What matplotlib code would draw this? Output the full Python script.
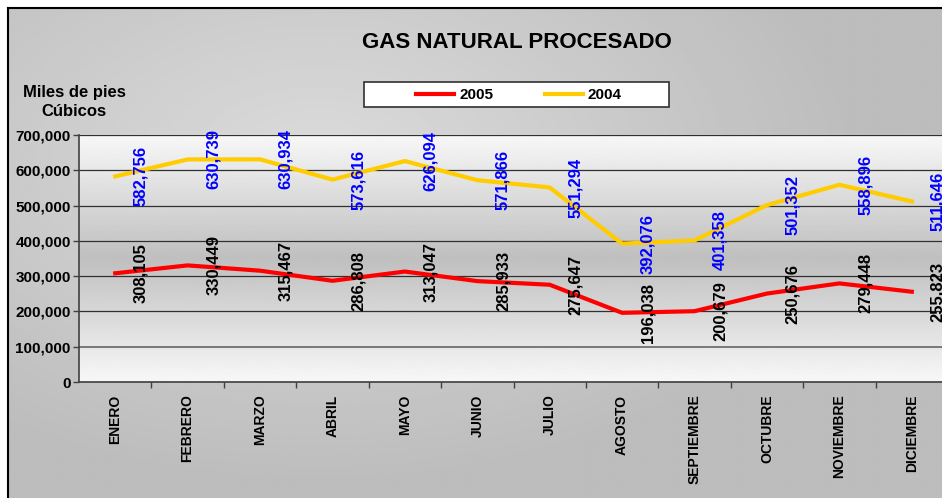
import numpy as np
import matplotlib
matplotlib.use('Agg')
import matplotlib.pyplot as plt
from matplotlib.lines import Line2D
from matplotlib.patches import Rectangle

plt.rcParams.update({
    'font.family': ['Liberation Sans', 'DejaVu Sans'],
    'font.weight': 'bold',
})

# --- Data ---
months = ['ENERO', 'FEBRERO', 'MARZO', 'ABRIL', 'MAYO', 'JUNIO', 'JULIO',
          'AGOSTO', 'SEPTIEMBRE', 'OCTUBRE', 'NOVIEMBRE', 'DICIEMBRE']
gas_2005 = [308105, 330449, 315467, 286808, 313047, 285933,
            275647, 196038, 200679, 250676, 279448, 255823]
gas_2004 = [582756, 630739, 630934, 573616, 626094, 571866,
            551294, 392076, 401358, 501352, 558896, 511646]
y_ticks = [0, 100000, 200000, 300000, 400000, 500000, 600000, 700000]

W, H = 942, 498
fig = plt.figure(figsize=(W / 100, H / 100), dpi=100)
fig.patch.set_facecolor('white')

# --- Outer chart area (gray radial gradient + black frame) ---
bg = fig.add_axes([8 / W, -0.02, 1.02, 1 - 8 / H + 0.02], zorder=0)
gy, gx = np.mgrid[0:200, 0:400]
gx = gx / 400.0 * (W - 8)
gy = gy / 200.0 * (H - 8)
dist = np.sqrt(((gx - 300) / 700.0) ** 2 + ((gy - 150) / 420.0) ** 2)
shade = np.clip(0.86 - 0.16 * dist, 0.74, 0.86)
bg.imshow(shade, cmap='gray', vmin=0, vmax=1, aspect='auto',
          extent=[0, 1, 0, 1], origin='upper')
bg.set_xlim(0, 1)
bg.set_ylim(0, 1)
bg.set_xticks([])
bg.set_yticks([])
for side in ['right', 'bottom']:
    bg.spines[side].set_visible(False)
for side in ['left', 'top']:
    bg.spines[side].set_color('black')
    bg.spines[side].set_linewidth(1.5)

# --- Plot area ---
ax = fig.add_axes([79 / W, 1 - 382 / H, 869 / W, (382 - 135) / H], zorder=2)
ax.set_xlim(-0.5, len(months) - 0.5)
ax.set_ylim(0, 700000)

t = np.linspace(0, 1, 256)
band = 0.75 + 0.22 * np.abs(t - 0.5) * 2
band = np.clip(band, 0.75, 0.97)
ax.imshow(band[:, None], cmap='gray', vmin=0, vmax=1, aspect='auto',
          extent=[-0.5, len(months) - 0.5, 0, 700000], origin='lower', zorder=0)

ax.set_yticks(y_ticks)
ax.set_yticklabels([f'{v:,}' for v in y_ticks], fontsize=11, fontweight='bold')
ax.yaxis.grid(True, color='#303030', linewidth=0.9)
for gl in ax.get_ygridlines():
    gl.set_zorder(1)
ax.get_ygridlines()[1].set_color('#707070')
ax.get_ygridlines()[1].set_linewidth(1.3)

ax.set_xticks(np.arange(len(months)))
ax.set_xticklabels(months, rotation=90, fontsize=10, fontweight='bold')
ax.set_xticks(np.arange(len(months)) + 0.5, minor=True)
ax.tick_params(axis='x', which='major', length=0, pad=9)
ax.tick_params(axis='x', which='minor', length=4, width=1, color='#404040')
ax.tick_params(axis='y', length=4, width=1, color='#404040', pad=2)

for side in ['top', 'right']:
    ax.spines[side].set_visible(False)
for side in ['left', 'bottom']:
    ax.spines[side].set_color('#404040')
    ax.spines[side].set_linewidth(1.2)

x = np.arange(len(months))
ax.plot(x, gas_2004, color='#FFCC00', linewidth=3, zorder=3, label='2004')
ax.plot(x, gas_2005, color='#FF0000', linewidth=3, zorder=3, label='2005')

for xi, v in zip(x, gas_2004):
    ax.annotate(f'{v:,}', (xi, v), xytext=(18.5, 0), textcoords='offset points',
                rotation=90, ha='center', va='center', fontsize=12,
                fontweight='bold', color='#0000FF', zorder=4, annotation_clip=False)
for xi, v in zip(x, gas_2005):
    ax.annotate(f'{v:,}', (xi, v), xytext=(18.5, 0), textcoords='offset points',
                rotation=90, ha='center', va='center', fontsize=12,
                fontweight='bold', color='black', zorder=4, annotation_clip=False)

# --- Title, axis title, legend ---
fig.text(517 / W, 1 - 43 / H, 'GAS NATURAL PROCESADO', ha='center', va='center',
         fontsize=16, fontweight='bold')
fig.text(74 / W, 1 - 102 / H, 'Miles de pies\nCúbicos', ha='center', va='center',
         fontsize=12, fontweight='bold', linespacing=1.25)

# legend box
fig.patches.append(Rectangle((364 / W, 1 - 107 / H), 305 / W, 25 / H,
                             transform=fig.transFigure, facecolor='white',
                             edgecolor='#303030', linewidth=1.2, zorder=4))
handles = [Line2D([0], [0], color='#FF0000', lw=3),
           Line2D([0], [0], color='#FFCC00', lw=3)]
leg = fig.legend(handles, ['2005', '2004'], ncol=2, loc='center',
                 bbox_to_anchor=(519 / W, 1 - 95 / H), fontsize=11,
                 frameon=False, handlelength=2.5, handletextpad=0.3,
                 columnspacing=3.4, borderpad=0, borderaxespad=0)
leg.set_zorder(5)
for txt in leg.get_texts():
    txt.set_fontweight('bold')

fig.savefig('out.png', dpi=100)
